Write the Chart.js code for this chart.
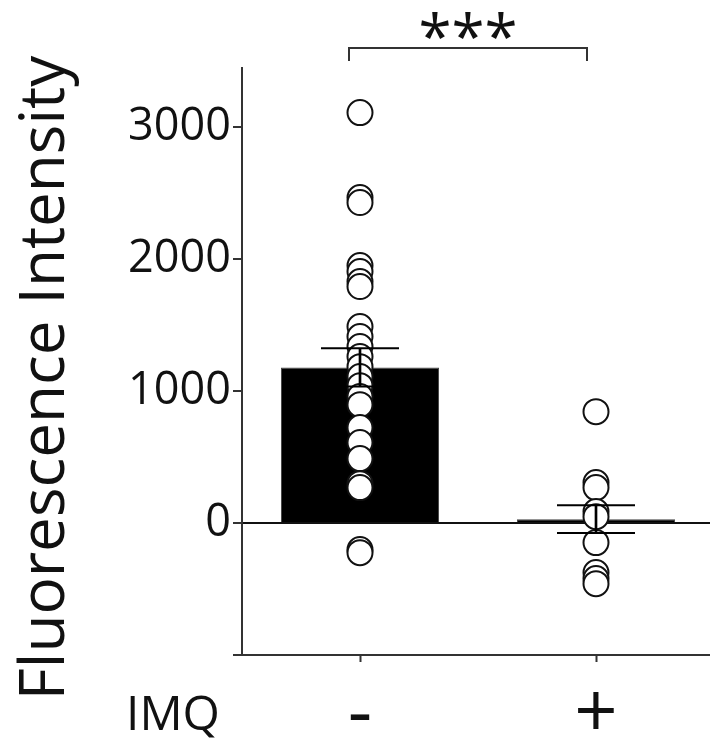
<!DOCTYPE html>
<html>
<head>
<meta charset="utf-8">
<script src="https://cdn.jsdelivr.net/npm/chart.js@4"></script>
<style>
  body { margin: 0; background: #fff; }
  #wrap { width: 710px; height: 739px; overflow: hidden; }
</style>
</head>
<body>
<div id="wrap"><canvas id="myChart" width="720" height="739"></canvas></div>
<script>
const categories = ["-", "+"];
const meanValues = [1180, 30];
const semValues = [145, 106];
const minusPoints = [3112, 2468, 2430, 1952, 1907, 1831, 1793, 1490, 1414, 1338, 1262, 1186,
  1111, 1042, 959, 898, 724, 610, 489, 299, 269, -201, -224];
const plusPoints = [845, 307, 269, 87, 49, -148, -375, -421, -459];
const yTicks = [-1000, 0, 1000, 2000, 3000];
const axisTitle = "Fluorescence Intensity";
const groupLabel = "IMQ";
const sigLabel = "***";

const fontFamily = "'Open Sans', sans-serif";

const pointData = [];
minusPoints.forEach((v) => pointData.push({ x: categories[0], y: v }));
plusPoints.forEach((v) => pointData.push({ x: categories[1], y: v }));

const upperCaps = meanValues.map((m, i) => m + semValues[i]);
const lowerCaps = meanValues.map((m, i) => m - semValues[i]);
const errRanges = meanValues.map((m, i) => [m - semValues[i], m + semValues[i]]);

// titles, group label and the significance bracket
const extraText = {
  id: "extraText",
  afterDraw: (chart) => {
    const ctx = chart.ctx;
    const x = chart.scales.x;
    ctx.save();
    ctx.fillStyle = "#111";
    ctx.textAlign = "center";
    ctx.textBaseline = "middle";

    ctx.save();
    ctx.translate(46, 378);
    ctx.rotate(-Math.PI / 2);
    ctx.font = "62px " + fontFamily;
    ctx.fillText(axisTitle, 0, 0);
    ctx.restore();

    ctx.font = "48px " + fontFamily;
    ctx.fillText(groupLabel, 173, 716);

    const x1 = x.getPixelForValue(0) - 11;
    const x2 = x.getPixelForValue(1) - 9;
    ctx.strokeStyle = "#333";
    ctx.lineWidth = 2;
    ctx.beginPath();
    ctx.moveTo(x1, 61);
    ctx.lineTo(x1, 48);
    ctx.lineTo(x2, 48);
    ctx.lineTo(x2, 61);
    ctx.stroke();

    ctx.font = "60px " + fontFamily;
    ctx.fillText(sigLabel, (x1 + x2) / 2, 41);
    ctx.restore();
  },
};

const config = {
  data: {
    labels: categories,
    datasets: [
      {
        type: "bar",
        label: "error",
        data: errRanges,
        backgroundColor: "#000",
        barThickness: 2,
        grouped: false,
        order: 0,
      },
      {
        type: "line",
        label: "upper",
        data: upperCaps,
        showLine: false,
        pointStyle: "line",
        pointRadius: 39,
        pointBorderWidth: 2,
        pointBorderColor: "#000",
        order: 0,
      },
      {
        type: "line",
        label: "lower",
        data: lowerCaps,
        showLine: false,
        pointStyle: "line",
        pointRadius: 39,
        pointBorderWidth: 2,
        pointBorderColor: "#000",
        order: 0,
      },
      {
        type: "line",
        label: "points",
        data: pointData,
        showLine: false,
        pointRadius: 12.5,
        pointBorderWidth: 2,
        pointBorderColor: "#111",
        pointBackgroundColor: "#fff",
        order: 1,
      },
      {
        type: "bar",
        label: "mean",
        data: meanValues,
        backgroundColor: "#000",
        borderColor: "#444",
        borderWidth: 1,
        categoryPercentage: 1,
        barPercentage: 0.67,
        grouped: false,
        order: 2,
      },
    ],
  },
  options: {
    responsive: false,
    animation: false,
    layout: { autoPadding: false, padding: { top: 68, right: 6, left: 0, bottom: 0 } },
    plugins: {
      legend: { display: false },
      tooltip: { enabled: false },
    },
    scales: {
      x: {
        type: "category",
        offset: true,
        afterFit: (scale) => { scale.height = 84; },
        border: { display: true, color: "#333", width: 2 },
        grid: { offset: false, drawOnChartArea: false, tickLength: 7, tickWidth: 2, tickColor: "#333" },
        ticks: { color: "#111", padding: 9, font: { family: fontFamily, size: 76 } },
      },
      y: {
        min: -1000,
        max: 3450,
        afterFit: (scale) => { scale.width = 242; },
        afterBuildTicks: (scale) => {
          scale.ticks = yTicks.map((v) => ({ value: v }));
        },
        border: { display: true, color: "#333", width: 2 },
        grid: {
          color: (c) => (c.tick && c.tick.value === 0 ? "#111" : "rgba(0,0,0,0)"),
          lineWidth: 2,
          tickColor: "#333",
          tickWidth: 2,
          tickLength: 9,
        },
        ticks: {
          color: "#111",
          padding: 2,
          font: { family: fontFamily, size: 45 },
          callback: (v) => (v < 0 ? "" : String(v)),
        },
      },
    },
  },
  plugins: [extraText],
};

const ctx = document.getElementById("myChart").getContext("2d");
const myChart = new Chart(ctx, config);
</script>
</body>
</html>
